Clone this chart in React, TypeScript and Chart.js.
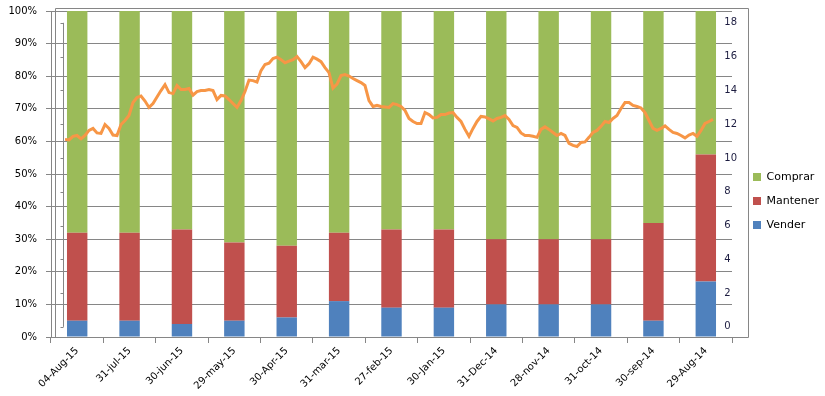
import React, { useEffect, useRef } from 'react';
import { Chart, registerables } from 'chart.js';

Chart.register(...registerables);

const categories = [
  '04-Aug-15', '31-jul-15', '30-jun-15', '29-may-15', '30-Apr-15', '31-mar-15', '27-feb-15',
  '30-Jan-15', '31-Dec-14', '28-nov-14', '31-oct-14', '30-sep-14', '29-Aug-14',
];
const vender = [5, 5, 4, 5, 6, 11, 9, 9, 10, 10, 10, 5, 17];
const mantener = [27, 27, 29, 24, 22, 21, 24, 24, 20, 20, 20, 30, 39];
const comprar = [68, 68, 67, 71, 72, 68, 67, 67, 70, 70, 70, 65, 44];

const lineValues = [
  11.10, 11.07, 11.28, 11.33, 11.13, 11.33, 11.63, 11.75, 11.48, 11.45,
  11.98, 11.75, 11.36, 11.33, 11.98, 12.22, 12.51, 13.28, 13.58, 13.67,
  13.37, 12.99, 13.22, 13.61, 13.99, 14.34, 13.87, 13.81, 14.29, 14.05,
  14.05, 14.11, 13.72, 13.93, 13.99, 13.99, 14.05, 13.99, 13.46, 13.70,
  13.67, 13.46, 13.22, 12.99, 13.40, 13.93, 14.61, 14.58, 14.49, 15.17,
  15.53, 15.61, 15.88, 15.97, 15.82, 15.64, 15.73, 15.82, 16.00, 15.70,
  15.35, 15.58, 15.97, 15.85, 15.70, 15.35, 15.05, 14.14, 14.37, 14.88,
  14.94, 14.85, 14.70, 14.58, 14.46, 14.29, 13.40, 13.05, 13.11, 13.05,
  13.02, 12.99, 13.22, 13.16, 13.05, 12.81, 12.34, 12.16, 12.04, 12.04,
  12.69, 12.57, 12.37, 12.40, 12.57, 12.57, 12.66, 12.69, 12.40, 12.16,
  11.69, 11.28, 11.75, 12.16, 12.46, 12.43, 12.31, 12.19, 12.34, 12.40,
  12.51, 12.28, 11.92, 11.81, 11.48, 11.33, 11.33, 11.28, 11.22, 11.69,
  11.84, 11.69, 11.51, 11.33, 11.45, 11.33, 10.86, 10.74, 10.68, 10.92,
  10.95, 11.22, 11.51, 11.63, 11.87, 12.16, 12.10, 12.34, 12.51, 12.93,
  13.28, 13.28, 13.11, 13.05, 12.96, 12.69, 12.22, 11.75, 11.63, 11.75,
  11.90, 11.69, 11.51, 11.45, 11.33, 11.19, 11.36, 11.45, 11.28, 11.63,
  12.04, 12.16, 12.28,
];

const leftTickStep = 10;
const rightTicks = [0, 2, 4, 6, 8, 10, 12, 14, 16, 18];

const FONT = 'DejaVu Sans, Verdana, sans-serif';
const AXIS_GRAY = '#868686';

const framePlugin = {
  id: 'frame',
  beforeDatasetsDraw(chart: any) {
    const { ctx, chartArea, scales } = chart;
    ctx.save();
    ctx.strokeStyle = AXIS_GRAY;
    ctx.lineWidth = 1;
    ctx.beginPath();
    const l = Math.round(chartArea.left) + 4.5;
    const t = Math.round(chartArea.top) - 2.5;
    const r = Math.round(chartArea.right) + 16.5;
    const b = Math.round(chartArea.bottom) + 0.5;
    ctx.moveTo(l, b);
    ctx.lineTo(l, t);
    ctx.lineTo(r, t);
    ctx.lineTo(r, b);
    ctx.lineTo(chartArea.right, b);
    const y2 = scales.y2;
    const ix = Math.round(chartArea.left) + 12.5;
    ctx.moveTo(ix, y2.getPixelForValue(rightTicks[rightTicks.length - 1]));
    ctx.lineTo(ix, y2.getPixelForValue(rightTicks[0]));
    rightTicks.forEach((v) => {
      const y = Math.round(y2.getPixelForValue(v)) + 0.5;
      ctx.moveTo(ix - 3, y);
      ctx.lineTo(ix, y);
    });
    ctx.stroke();
    ctx.restore();
  },
};

const barStyle = { order: 1, stack: 's', grouped: false, barPercentage: 0.39, categoryPercentage: 1 };

export default function App() {
  const ref = useRef<HTMLCanvasElement | null>(null);

  useEffect(() => {
    if (!ref.current) return;
    const chart = new Chart(ref.current, {
      type: 'bar',
      data: {
        labels: categories,
        datasets: [
          { label: 'Vender', data: vender, backgroundColor: '#4F81BD', ...barStyle },
          { label: 'Mantener', data: mantener, backgroundColor: '#C0504D', ...barStyle },
          { label: 'Comprar', data: comprar, backgroundColor: '#9BBB59', ...barStyle },
          {
            type: 'line',
            label: 'Precio',
            data: lineValues.map((v, i) => ({ x: i, y: v })),
            borderColor: '#F79646',
            backgroundColor: '#F79646',
            borderWidth: 3,
            pointRadius: 0,
            tension: 0,
            xAxisID: 'x2',
            yAxisID: 'y2',
            order: 0,
          } as any,
        ] as any,
      },
      options: {
        responsive: false,
        animation: false,
        devicePixelRatio: 1,
        layout: { padding: { top: 6, left: 0, right: 0, bottom: 0 } },
        plugins: {
          legend: {
            position: 'right',
            maxWidth: 85,
            reverse: true,
            labels: {
              boxWidth: 8,
              boxHeight: 8,
              padding: 13,
              color: '#000',
              font: { family: FONT, size: 11 },
              filter: (item: any) => item.datasetIndex !== 3,
            },
          },
          tooltip: { enabled: false },
        },
        scales: {
          x: {
            stacked: true,
            grid: { display: true, drawOnChartArea: false, offset: true, tickLength: 6, color: AXIS_GRAY },
            border: { color: AXIS_GRAY },
            ticks: { minRotation: 45, maxRotation: 45, autoSkip: false, color: '#000', font: { family: FONT, size: 10 }, padding: 2 },
            afterFit: (s: any) => { s.height = 59; },
          },
          y: {
            stacked: true,
            min: 0,
            max: 100,
            ticks: { stepSize: leftTickStep, callback: (v: any) => v + '%', padding: 9, color: '#000', font: { family: FONT, size: 10 } },
            grid: { color: AXIS_GRAY, tickLength: 5 },
            border: { color: AXIS_GRAY },
            afterFit: (s: any) => { s.width = 51; s.paddingTop = 10; },
          },
          x2: {
            type: 'linear',
            display: false,
            offset: false,
            grid: { offset: false },
            min: -3.5,
            max: 166.75,
          },
          y2: {
            position: 'right',
            min: -0.6,
            max: 18.7,
            grid: { display: false, drawTicks: false },
            border: { display: false },
            ticks: { mirror: true, crossAlign: 'far', padding: 5, color: '#1c1c40', font: { family: FONT, size: 10 } },
            afterBuildTicks: (s: any) => { s.ticks = rightTicks.map((v) => ({ value: v })); },
            afterFit: (s: any) => { s.width = 8; },
          },
        } as any,
      },
      plugins: [framePlugin],
    });
    return () => chart.destroy();
  }, []);

  return (
    <div style={{ position: 'absolute', left: 0, top: 0, width: 825, height: 396, background: '#fff' }}>
      <canvas ref={ref} width={825} height={396} style={{ display: 'block' }} />
    </div>
  );
}
